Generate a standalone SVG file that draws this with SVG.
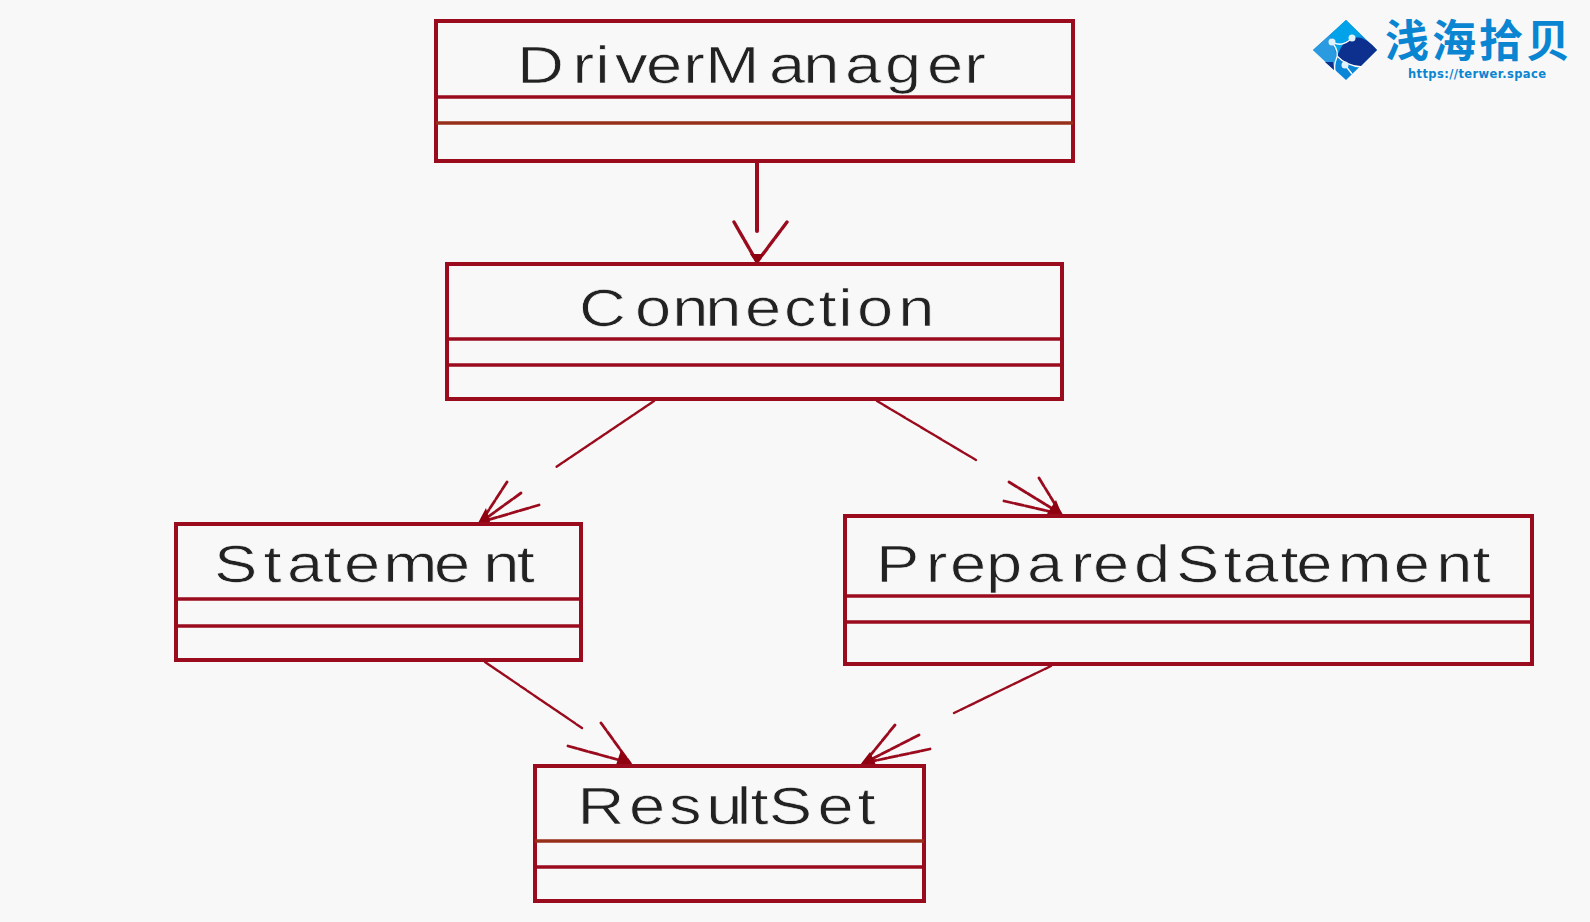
<svg xmlns="http://www.w3.org/2000/svg" width="1590" height="922" viewBox="0 0 1590 922">
<style>
.box{fill:none;stroke:#9a0b1e;stroke-width:4}
.div{stroke:#9a0b1e;stroke-width:3.4}
.lbl{font-family:"Liberation Sans",Arial,sans-serif;font-size:52px;fill:#222;stroke:#f8f8f8;stroke-width:0.7;paint-order:normal;filter:url(#soft)}
.c{fill:none;stroke:#9a0b1e;stroke-width:2.4;stroke-linecap:round;stroke-dasharray:7 1.5}
.h{fill:none;stroke:#9a0b1e;stroke-width:2.8;stroke-linecap:round;stroke-dasharray:9 2}
.tip{fill:#8f0010}
</style>
<defs><filter id="soft" x="-5%" y="-20%" width="110%" height="140%"><feGaussianBlur stdDeviation="0.6"/></filter></defs>
<rect width="1590" height="922" fill="#f8f8f8"/>
<g id="connectors">
<line class="c" style="stroke-width:4;stroke-dasharray:none" x1="757" y1="162" x2="757" y2="231"/>
<path class="h" style="stroke-width:3.4" d="M787 222L757 262L734 222"/>
<path class="tip" d="M750 254L764 254L757 264Z"/>
<line class="c" x1="654" y1="401" x2="556" y2="467"/>
<path class="h" d="M507 482L481 522M521 493L481 522M539 505L481 522"/>
<path class="tip" d="M478 523L490 522L486 508Z"/>
<line class="c" x1="877" y1="401" x2="976" y2="460"/>
<path class="h" d="M1039 478L1061 514M1009 482L1061 514M1004 501L1061 514"/>
<path class="tip" d="M1062 515L1047 514L1056 500Z"/>
<line class="c" x1="485" y1="662" x2="582" y2="728"/>
<path class="h" d="M601 723L630 763M568 746L630 763"/>
<path class="tip" d="M633 765L616 765L621 750Z"/>
<line class="c" x1="1051" y1="666" x2="954" y2="713"/>
<path class="h" d="M895 725L864 763M919 735L864 763M930 749L864 763"/>
<path class="tip" d="M860 765L876 765L870 752Z"/>
</g>
<g id="DriverManager">
<rect class="box" x="436" y="21" width="637" height="140"/>
<line class="div" x1="436" y1="97" x2="1073" y2="97"/>
<line class="div" x1="436" y1="123" x2="1073" y2="123" style="stroke:#97301a"/>
<text class="lbl" transform="scale(1.25 1)" x="413.6 458 476.3 492 516.8 546.7 564.3 615.2 642.7 676 708 741.6 771.5" y="83">DriverManager</text>
</g>
<g id="Connection">
<rect class="box" x="447" y="264" width="615" height="135"/>
<line class="div" x1="447" y1="339" x2="1062" y2="339"/>
<line class="div" x1="447" y1="365" x2="1062" y2="365"/>
<text class="lbl" transform="scale(1.25 1)" x="463.2 508 537.9 564.3 596 627.2 654.8 670.7 685.6 718.7" y="326">Connection</text>
</g>
<g id="Statement">
<rect class="box" x="176" y="524" width="405" height="136"/>
<line class="div" x1="176" y1="599" x2="581" y2="599"/>
<line class="div" x1="176" y1="626" x2="581" y2="626"/>
<text class="lbl" transform="scale(1.25 1)" x="171.2 210.8 229.6 258.8 275.2 306.7 347.2 386.7 413.5" y="582">Statement</text>
</g>
<g id="PreparedStatement">
<rect class="box" x="845" y="516" width="687" height="148"/>
<line class="div" x1="845" y1="596" x2="1532" y2="596"/>
<line class="div" x1="845" y1="622" x2="1532" y2="622"/>
<text class="lbl" transform="scale(1.25 1)" x="700.8 740.7 760 788.8 821.6 856.8 874.4 907.2 940.8 978.8 994 1024.5 1037 1070 1115 1149 1178" y="582">PreparedStatement</text>
</g>
<g id="ResultSet">
<rect class="box" x="535" y="766" width="389" height="135"/>
<line class="div" x1="535" y1="841" x2="924" y2="841" style="stroke:#97301a"/>
<line class="div" x1="535" y1="867" x2="924" y2="867"/>
<text class="lbl" transform="scale(1.25 1)" x="462 503.2 535.2 565.1 589.5 600.5 615 654 686" y="824">ResultSet</text>
</g>
<g id="logo">
<path d="M1346 20L1377 50L1346 80L1313 50Z" fill="#0a86d8"/>
<path d="M1313 50L1330 35L1337 57L1334 70Z" fill="#2a9be0"/>
<path d="M1330 35L1346 20L1362 36Q1345 38 1337 57Q1337 44 1330 35Z" fill="#00a2ea"/>
<path d="M1337 57Q1342 40 1354 38Q1364 35 1377 50L1360 67Q1345 66 1337 57Z" fill="#0d2f8e"/>
<path d="M1325 62L1333 62L1334 70Z" fill="#0d2f8e"/>
<path d="M1332 42Q1342 48 1352 38M1332 42Q1340 52 1336 60Q1334 64 1335 72M1337 56Q1346 66 1362 67M1345 65L1352 74" fill="none" stroke="#fff" stroke-width="1.3"/>
<circle cx="1332" cy="42" r="3.5" fill="#dff1fb"/>
<circle cx="1352" cy="38" r="3.5" fill="#dff1fb"/>
<circle cx="1345" cy="65" r="3.5" fill="#dff1fb"/>
<text x="1385" y="57" font-family="'Noto Sans CJK SC',sans-serif" font-weight="700" font-size="44" fill="#0a85d1" textLength="185" lengthAdjust="spacing">浅海拾贝</text>
<text x="1408" y="78" font-family="'DejaVu Sans',sans-serif" font-weight="700" font-size="11.5" fill="#0a85d1" textLength="138" lengthAdjust="spacing">https://terwer.space</text>
</g>
</svg>
